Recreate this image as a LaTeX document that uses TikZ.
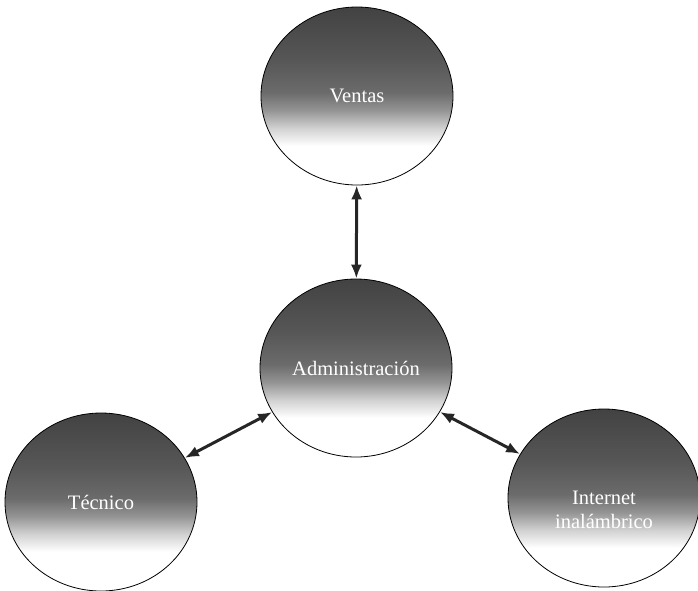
\documentclass[tikz,border=0pt]{standalone}
\usepackage{fontspec}
\setmainfont{Liberation Serif}
\usepackage{tikz}
\usetikzlibrary{arrows.meta, shapes.geometric}
\pgfdeclareverticalshading{esfera}{100bp}{color(0bp)=(white); color(36bp)=(white); color(41bp)=(black!18); color(46bp)=(black!42); color(51bp)=(black!58); color(60bp)=(black!66); color(75bp)=(black!74); color(100bp)=(black!74)}

\begin{document}
\begin{tikzpicture}[
  x=1pt, y=-1pt,
  area/.style={
    ellipse, draw=black, line width=0.8pt,
    shading=esfera,
    minimum width=192pt, minimum height=178pt,
    align=center, text=white, font=\fontsize{20.5}{24}\selectfont,
    inner sep=0pt
  },
  enlace/.style={{Latex[length=14pt, width=11pt]}-{Latex[length=14pt, width=11pt]}, line width=3pt, black!85}
]
\useasboundingbox (0,0) rectangle (698,590);

% ---- Areas ----
\node[area] (ventas) at (357, 96) {Ventas};
\node[area] (admin) at (356, 368) {Administración};
\node[area] (tecnico) at (101, 502) {Técnico};
\node[area, label={[text=white, font=\fontsize{20.5}{24}\selectfont, align=center, yshift=-12pt]center:Internet\\inalámbrico}] (internet) at (604, 498) {};

% Flechas
\draw[enlace] (ventas) -- (admin);
\draw[enlace] (tecnico) -- (admin);
\draw[enlace] (admin) -- (internet);

\end{tikzpicture}
\end{document}
